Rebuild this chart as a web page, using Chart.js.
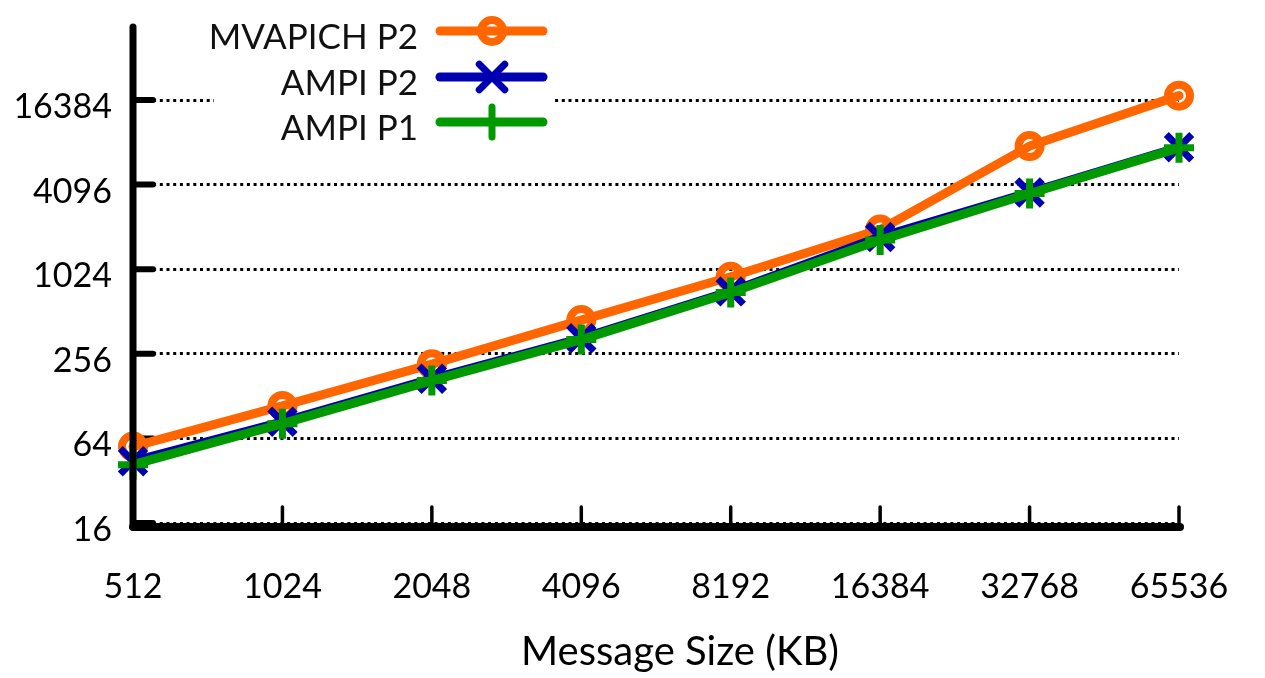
<!DOCTYPE html>
<html>
<head>
<meta charset="utf-8">
<script src="https://cdn.jsdelivr.net/npm/chart.js@4.4.1/dist/chart.umd.min.js"></script>
<style>
  html, body { margin: 0; padding: 0; background: #ffffff; }
  #wrap { width: 1265px; height: 678px; }
</style>
</head>
<body>
<div id="wrap"><canvas id="c" width="1265" height="678"></canvas></div>
<script>
// Message sizes (KB) on the x axis
const messageSizes = ['512', '1024', '2048', '4096', '8192', '16384', '32768', '65536'];
// Time per run for each implementation (log2 y axis)
const mvapichP2 = [56, 109, 216, 445, 905, 1960, 7700, 17600];
const ampiP2    = [44, 84, 170, 330, 712, 1735, 3600, 7560];
const ampiP1    = [41.6, 81.5, 165, 323, 700, 1650, 3540, 7480];
// y axis tick values and range
const yTickValues = [16, 64, 256, 1024, 4096, 16384];
const yMin = 16;
const yMax = 56000;

const seriesLabels = ['MVAPICH P2', 'AMPI P2', 'AMPI P1'];
const FONT = 'Lato, "Open Sans", sans-serif';

function drawMarker(ctx, style, x, y, r, lw, color) {
  ctx.save();
  ctx.strokeStyle = color;
  ctx.lineWidth = lw;
  ctx.beginPath();
  if (style === 'circle') {
    ctx.arc(x, y, r, 0, Math.PI * 2);
  } else if (style === 'crossRot') {
    const d = r * Math.SQRT1_2;
    ctx.moveTo(x - d, y - d); ctx.lineTo(x + d, y + d);
    ctx.moveTo(x + d, y - d); ctx.lineTo(x - d, y + d);
  } else {
    ctx.moveTo(x - r, y); ctx.lineTo(x + r, y);
    ctx.moveTo(x, y - r); ctx.lineTo(x, y + r);
  }
  ctx.stroke();
  ctx.restore();
}

const decorations = {
  id: 'decorations',
  beforeDatasetsDraw(chart) {
    const ctx = chart.ctx;
    const area = chart.chartArea;
    const ys = chart.scales.y;
    const xs = chart.scales.x;
    ctx.save();
    ctx.strokeStyle = '#000';
    ctx.lineCap = 'round';
    // inward tick stubs on the y axis
    ctx.lineWidth = 6;
    yTickValues.forEach(v => {
      const py = ys.getPixelForValue(v);
      ctx.beginPath();
      ctx.moveTo(area.left, py);
      ctx.lineTo(area.left + 20, py);
      ctx.stroke();
    });
    // inward tick stubs on the x axis
    ctx.lineWidth = 3.5;
    messageSizes.forEach((_, i) => {
      const px = xs.getPixelForValue(i);
      ctx.beginPath();
      ctx.moveTo(px, area.bottom + 3);
      ctx.lineTo(px, area.bottom - 16);
      ctx.stroke();
    });
    ctx.restore();
  },
  afterDatasetsDraw(chart) {
    const ctx = chart.ctx;
    const area = chart.chartArea;
    ctx.save();
    // axis lines
    ctx.strokeStyle = '#000';
    ctx.lineCap = 'round';
    ctx.lineWidth = 7;
    ctx.beginPath();
    ctx.moveTo(area.left, area.top + 2);
    ctx.lineTo(area.left, area.bottom + 4);
    ctx.stroke();
    ctx.lineWidth = 8;
    ctx.beginPath();
    ctx.moveTo(area.left, area.bottom + 4);
    ctx.lineTo(area.right + 1, area.bottom + 4);
    ctx.stroke();

    // key box
    ctx.fillStyle = '#fff';
    ctx.fillRect(214, 6, 341, 140);
    const rowsY = [31, 77, 122];
    ctx.filter = 'blur(0.6px)';
    chart.data.datasets.forEach((ds, i) => {
      const y = rowsY[i];
      ctx.fillStyle = '#111';
      ctx.font = '35px ' + FONT;
      ctx.textAlign = 'right';
      ctx.textBaseline = 'middle';
      ctx.fillText(ds.label, 418, y + 7);
      ctx.strokeStyle = ds.borderColor;
      ctx.lineWidth = ds.borderWidth;
      ctx.lineCap = 'round';
      ctx.beginPath();
      ctx.moveTo(440, y);
      ctx.lineTo(543, y);
      ctx.stroke();
      drawMarker(ctx, ds.pointStyle, 492, y, ds.pointRadius, ds.pointBorderWidth, ds.borderColor);
    });
    ctx.filter = 'none';

    // x axis title
    ctx.fillStyle = '#000';
    ctx.font = '40px ' + FONT;
    ctx.textAlign = 'center';
    ctx.textBaseline = 'middle';
    ctx.fillText('Message Size (KB)', 680, 652);
    ctx.restore();
  }
};

function series(label, data, color, style, radius, pbw, order) {
  return {
    label: label,
    data: data,
    borderColor: color,
    backgroundColor: color,
    borderWidth: 9,
    borderCapStyle: 'round',
    borderJoinStyle: 'round',
    pointStyle: style,
    pointRadius: radius,
    pointBorderWidth: pbw,
    pointBorderColor: color,
    pointBackgroundColor: 'rgba(0,0,0,0)',
    tension: 0,
    clip: false,
    order: order
  };
}

new Chart(document.getElementById('c'), {
  type: 'line',
  data: {
    labels: messageSizes,
    datasets: [
      series(seriesLabels[0], mvapichP2, '#ff6600', 'circle', 11, 8, 3),
      series(seriesLabels[1], ampiP2, '#0000b0', 'crossRot', 18, 7, 2),
      series(seriesLabels[2], ampiP1, '#009900', 'cross', 15, 7, 1)
    ]
  },
  options: {
    responsive: false,
    animation: false,
    events: [],
    devicePixelRatio: 1,
    layout: { padding: { left: 0, right: 86, top: 19, bottom: 0 } },
    plugins: { legend: { display: false }, tooltip: { enabled: false }, title: { display: false } },
    scales: {
      x: {
        type: 'category',
        offset: false,
        grid: { display: false, drawTicks: false },
        border: { display: false },
        ticks: {
          color: '#000',
          font: { family: FONT, size: 34 },
          padding: 44,
          maxRotation: 0,
          autoSkip: false
        },
        afterFit(s) {
          s.height = 678 - 523;
          s.paddingLeft = 0; s.paddingRight = 0;
          s.paddingTop = 0; s.paddingBottom = 0;
        }
      },
      y: {
        type: 'logarithmic',
        min: yMin,
        max: yMax,
        afterBuildTicks(s) { s.ticks = yTickValues.map(v => ({ value: v })); },
        afterFit(s) {
          s.width = 133;
          s.paddingTop = 0; s.paddingBottom = 0;
          s.paddingLeft = 0; s.paddingRight = 0;
        },
        grid: { color: '#000', lineWidth: 3, drawTicks: false },
        border: { display: false, dash: [3, 3.7] },
        ticks: {
          color: '#000',
          font: { family: FONT, size: 34 },
          padding: 21,
          labelOffset: 7,
          callback: v => String(v)
        }
      }
    }
  },
  plugins: [decorations]
});
</script>
</body>
</html>
